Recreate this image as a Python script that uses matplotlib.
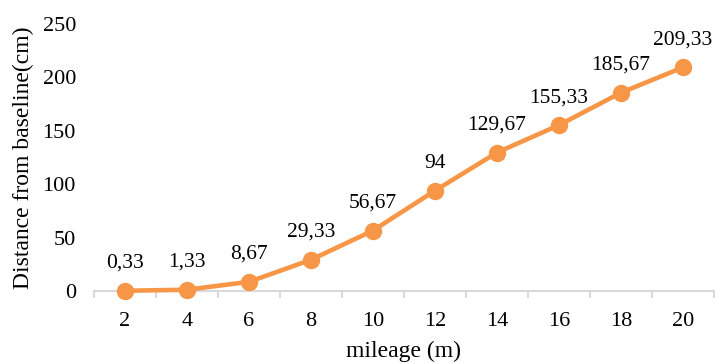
import matplotlib
matplotlib.use("Agg")
import matplotlib.pyplot as plt

mileage = [2, 4, 6, 8, 10, 12, 14, 16, 18, 20]
distance = [0.33, 1.33, 8.67, 29.33, 56.67, 94, 129.67, 155.33, 185.67, 209.33]
y_ticks = [0, 50, 100, 150, 200, 250]

ORANGE = "#F79646"
AXIS_GRAY = "#D9D9D9"

plt.rcParams["font.family"] = ["Liberation Serif", "DejaVu Serif"]


def fmt(v):
    # comma decimal separator, drop trailing zeros
    s = f"{v:.2f}".rstrip("0").rstrip(".")
    return s.replace(".", ",")


fig = plt.figure(figsize=(7.15, 3.63), dpi=100)
ax = fig.add_axes([0.1315, 0.198, 0.867, 0.736])

xs = list(range(len(mileage)))
ax.plot(xs, distance, color=ORANGE, lw=3.3, marker="o", ms=11.5,
        solid_capstyle="round", zorder=3, clip_on=False)
for x, v in zip(xs, distance):
    ax.annotate(fmt(v), (x, v), xytext=(0, 13), textcoords="offset points",
                ha="center", va="bottom", fontsize=15.5)

ax.set_xlim(-0.5, len(mileage) - 0.5)
ax.set_ylim(0, 250)
ax.set_yticks(y_ticks)
ax.set_xticks(xs)
ax.set_xticklabels([str(m) for m in mileage])
ax.set_xticks([i - 0.5 for i in range(len(mileage) + 1)], minor=True)

for side in ["top", "right", "left"]:
    ax.spines[side].set_visible(False)
ax.spines["bottom"].set_color(AXIS_GRAY)
ax.spines["bottom"].set_linewidth(1.5)

ax.tick_params(axis="y", length=0, labelsize=16, pad=13)
ax.tick_params(axis="x", which="major", length=0, labelsize=16, pad=15)
ax.tick_params(axis="x", which="minor", length=5, width=1.5, color=AXIS_GRAY)

ax.set_xlabel("mileage (m)", fontsize=17, labelpad=7)
ax.set_ylabel("Distance from baseline(cm)", fontsize=17, labelpad=6)

fig.savefig("out.png", dpi=100)
